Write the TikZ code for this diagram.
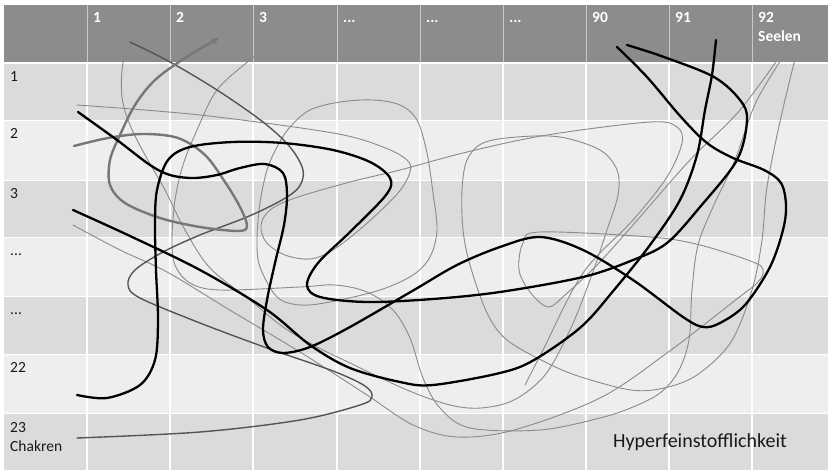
\documentclass[tikz,border=0pt]{standalone}
\usepackage{fontspec}
\setmainfont{Carlito}
\usetikzlibrary{arrows.meta}
\definecolor{hdr}{HTML}{8C8C8C}
\definecolor{hdrsep}{HTML}{C8C8C8}
\definecolor{rowdark}{HTML}{DBDBDB}
\definecolor{rowlight}{HTML}{EEEEEE}
\definecolor{thinline}{HTML}{8A8A8A}
\definecolor{midline}{HTML}{555555}
\definecolor{arrowline}{HTML}{777777}
\definecolor{labeltext}{HTML}{1A1A1A}
\begin{document}
\begin{tikzpicture}[x=1pt,y=-1pt,
  hdrtext/.style={anchor=base west,text=white,font=\fontsize{15.5}{19}\selectfont\bfseries,inner sep=0pt},
  rowtext/.style={anchor=base west,text=labeltext,font=\fontsize{15.5}{19}\selectfont,inner sep=0pt},
  thinstroke/.style={thinline,line width=0.9pt,line cap=round},
  midstroke/.style={midline,line width=1.4pt,line cap=round},
  arrowstroke/.style={arrowline,line width=2.4pt,line cap=round},
  heavystroke/.style={black,line width=2.3pt,line cap=round},
  cellsep/.style={white,line width=1.3pt},
  rowsep/.style={white,line width=1pt}]
\useasboundingbox (0,0) rectangle (828,470);
\fill[white] (0,0) rectangle (828,470);
% header
\fill[hdr] (4,5) rectangle (828,62);
% rows
\fill[rowdark]  (4,64)  rectangle (828,121);
\fill[rowlight] (4,121) rectangle (828,181);
\fill[rowdark]  (4,181) rectangle (828,238);
\fill[rowlight] (4,238) rectangle (828,297);
\fill[rowdark]  (4,297) rectangle (828,355);
\fill[rowlight] (4,355) rectangle (828,414);
\fill[rowdark]  (4,414) rectangle (828,470);
\foreach \y in {121,181,238,297,355,414} \draw[rowsep] (4,\y) -- (828,\y);
\foreach \x in {87,170,253,337,420,503,586,669,752} {
  \draw[hdrsep,line width=1pt] (\x,5) -- (\x,62);
  \draw[cellsep] (\x,64) -- (\x,470);
}
% header labels
\node[hdrtext] (c1) at (93,23) {1};
\node[hdrtext] (c2) at (176,23) {2};
\node[hdrtext] (c3) at (259,23) {3};
\node[hdrtext] (c4) at (343,23) {...};
\node[hdrtext] (c5) at (426,23) {...};
\node[hdrtext] (c6) at (509,23) {...};
\node[hdrtext] (c90) at (592,23) {90};
\node[hdrtext] (c91) at (675,23) {91};
\node[hdrtext] (c92) at (758,23) {92};
\node[hdrtext] (cseelen) at (758,42) {Seelen};
% row labels
\node[rowtext] (r1) at (10,82) {1};
\node[rowtext] (r2) at (10,139) {2};
\node[rowtext] (r3) at (10,199) {3};
\node[rowtext] (r4) at (10,256) {...};
\node[rowtext] (r5) at (10,315) {...};
\node[rowtext] (r22) at (10,373) {22};
\node[rowtext] (r23) at (10,432) {23};
\node[rowtext] (rchakren) at (10,452) {Chakren};
\node[anchor=base west,text=labeltext,font=\fontsize{20}{24}\selectfont,inner sep=0pt] (hyper) at (613,448) {Hyperfeinstofflichkeit};
% thin grey scribbles
\draw[thinstroke] plot[smooth,tension=0.55] coordinates {(280,38) (250,60) (217,90) (197,130) (183,165) (175,200) (172,240) (175,265) (190,283) (220,290) (300,287) (335,285) (367,292) (393,310) (410,338) (423,378) (440,408) (470,428) (540,430) (600,418) (633,407) (660,393) (678,372) (689,340) (692,290) (698,245) (713,207) (735,160) (757,100) (794,40)};
\draw[thinstroke] plot[smooth,tension=0.55] coordinates {(133,40) (123,63) (122,97) (130,125) (145,155) (165,190) (185,230) (210,268) (250,300) (283,327) (317,347) (350,363) (407,390) (450,405) (481,408) (514,400) (545,375) (570,330) (590,280) (607,230) (618,195) (617,170) (600,150) (560,137) (517,137) (483,143) (467,160) (462,190) (463,230) (470,265) (487,313) (507,340) (547,363) (581,377) (631,390) (664,388) (697,375) (731,342) (752,290) (762,240) (767,187) (781,117) (799,43)};
\draw[thinstroke] plot[smooth,tension=0.55] coordinates {(77,105) (200,115) (333,133) (383,147) (407,160) (410,172) (398,193) (365,225) (333,250) (310,259) (285,255) (266,242) (261,225) (270,210) (295,198) (350,182) (400,170) (467,152) (547,135) (650,122) (677,127) (682,143) (667,177) (633,220) (583,273) (543,350) (525,385)};
\draw[thinstroke] plot[smooth,tension=0.55] coordinates {(73,225) (120,250) (167,272) (233,312) (300,352) (367,395) (413,425) (457,437) (514,430) (600,398) (667,353) (733,302) (758,282) (763,270) (753,262) (700,245) (650,237) (540,232) (523,243) (519,270) (530,292) (548,307) (565,295) (597,265) (633,225) (690,160) (740,110) (790,42)};
\draw[thinstroke] plot[smooth cycle,tension=0.55] coordinates {(437,230) (433,193) (427,153) (417,120) (400,105) (373,100) (340,102) (310,110) (290,127) (277,147) (267,170) (260,203) (257,240) (260,267) (277,297) (300,305) (330,302) (380,290) (413,275) (430,257)};
% dark grey line to Chakren
\draw[midstroke] plot[smooth,tension=0.55] coordinates {(130,42) (170,62) (217,90) (263,122) (290,147) (303,170) (299,187) (282,200) (247,217) (200,235) (163,252) (135,270) (128,285) (140,298) (200,323) (267,348) (333,371) (365,386) (372,397) (360,405) (300,420) (200,432) (77,438)};
% grey arrow
\draw[arrowstroke,-{Stealth[length=8pt,width=7pt]}] plot[smooth,tension=0.55] coordinates {(74,146) (108,138) (143,134) (178,138) (205,155) (225,182) (240,207) (247,226) (238,231) (200,227) (160,218) (125,203) (110,185) (110,160) (120,135) (135,105) (155,80) (185,58) (219,38)};
% black lines
\draw[heavystroke] plot[smooth,tension=0.55] coordinates {(617,47) (647,77) (681,117) (707,143) (733,158) (764,170) (781,183) (786,205) (783,230) (770,267) (745,305) (720,323) (703,327) (683,317) (633,280) (583,250) (540,237) (500,247) (457,265) (414,290) (350,327) (310,347) (283,353) (268,347) (263,330) (267,300) (275,263) (284,225) (287,195) (283,173) (265,164) (240,168) (217,175) (193,178) (170,175) (150,165) (117,140) (78,112)};
\draw[heavystroke] plot[smooth,tension=0.55] coordinates {(77,395) (107,398) (140,385) (155,360) (158,320) (156,270) (155,225) (157,190) (168,160) (190,147) (233,142) (283,143) (333,150) (370,162) (390,178) (386,195) (350,232) (318,263) (307,285) (320,297) (367,302) (433,299) (500,292) (583,277) (633,260) (667,243) (700,207) (737,160) (747,120) (740,100) (714,77) (664,57) (627,45)};
\draw[heavystroke] plot[smooth,tension=0.55] coordinates {(73,210) (130,236) (200,270) (267,310) (310,345) (350,368) (400,382) (433,385) (500,373) (534,360) (581,327) (614,290) (650,245) (680,200) (697,155) (705,110) (712,75) (716,40)};
\end{tikzpicture}
\end{document}
